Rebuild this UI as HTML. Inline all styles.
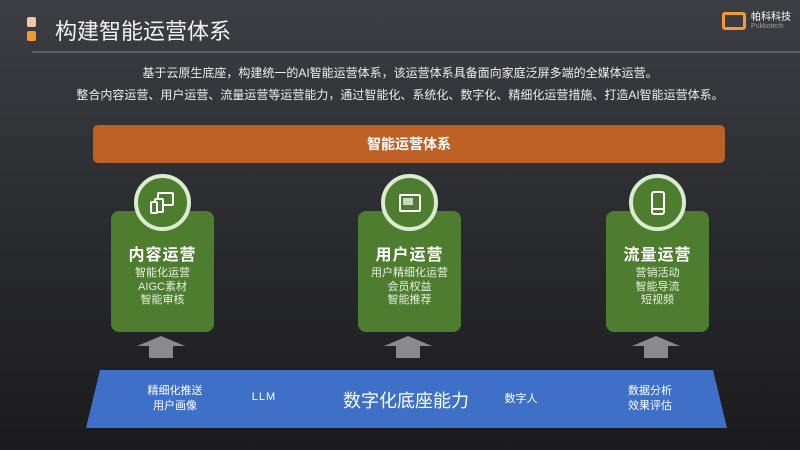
<!DOCTYPE html>
<html><head><meta charset="utf-8"><style>
*{margin:0;padding:0;box-sizing:border-box}
body{width:800px;height:450px;overflow:hidden;position:relative;background:linear-gradient(#3d3e44 0%,#2c2d31 45%,#1b1b1d 100%);font-family:"Liberation Sans","Noto Sans CJK SC",sans-serif;color:#fff}
.a{position:absolute}
.c{text-align:center}
.box{position:absolute;top:211px;width:103px;height:121px;background:#4e7d2f;border-radius:8px}
.box h3{position:absolute;top:30px;width:100%;text-align:center;font-size:16px;font-weight:bold;letter-spacing:1px}
.box p{position:absolute;top:56px;width:100%;text-align:center;font-size:11px;line-height:13.5px;color:#e8f0e0}
.cir{position:absolute;top:174px;width:57px;height:57px;border-radius:50%;background:#4e7d2f;border:4px solid #d9eccf}
.cir svg{position:absolute;left:12px;top:12px}
.arr{position:absolute;top:336px}
.bt{position:absolute;font-size:11px;line-height:15px;text-align:center;color:#fff}
</style></head><body>
<div class="a" style="left:27px;top:17px;width:9px;height:10px;background:#f3c7a6;border-radius:2px"></div>
<div class="a" style="left:27px;top:31px;width:9px;height:10px;background:#f39a32;border-radius:2px"></div>
<div class="a" style="left:55px;top:18px;font-size:22px;line-height:28px;color:#f2f2f2">构建智能运营体系</div>
<div class="a" style="left:32px;top:51px;width:768px;height:2px;background:#5d5e63"></div>
<div class="a" style="left:722px;top:12px;width:24px;height:18px;border:3px solid #f39a32;border-radius:3px"></div>
<div class="a" style="left:751px;top:12px;font-size:10px;line-height:11px;color:#fff">帕科科技</div>
<div class="a" style="left:751px;top:23px;font-size:7px;line-height:8px;color:#999">Pukkotech</div>
<div class="a c" style="left:0;width:800px;top:65px;font-size:12px;line-height:16px;color:#eee">基于云原生底座，构建统一的AI智能运营体系，该运营体系具备面向家庭泛屏多端的全媒体运营。</div>
<div class="a c" style="left:0;width:800px;top:87px;font-size:12px;line-height:16px;color:#eee">整合内容运营、用户运营、流量运营等运营能力，通过智能化、系统化、数字化、精细化运营措施、打造AI智能运营体系。</div>
<div class="a c" style="left:93px;top:125px;width:632px;height:38px;background:#bd6126;border-radius:5px;font-size:14px;font-weight:bold;line-height:38px">智能运营体系</div>

<div class="box" style="left:111px"><h3>内容运营</h3><p>智能化运营<br>AIGC素材<br>智能审核</p></div>
<div class="box" style="left:358px"><h3>用户运营</h3><p>用户精细化运营<br>会员权益<br>智能推荐</p></div>
<div class="box" style="left:606px"><h3>流量运营</h3><p>营销活动<br>智能导流<br>短视频</p></div>

<div class="cir" style="left:134px"><svg width="26" height="26" viewBox="0 0 26 26" fill="none" stroke="#fff" stroke-width="2"><rect x="8" y="3" width="15" height="12" rx="1"/><rect x="5" y="9" width="8" height="13" rx="1" fill="#4e7d2f"/><rect x="1" y="12" width="6" height="11" rx="1" fill="#4e7d2f"/></svg></div>
<div class="cir" style="left:381px"><svg width="26" height="26" viewBox="0 0 26 26" fill="none" stroke="#fff" stroke-width="2"><rect x="3" y="5" width="20" height="16" rx="1"/><rect x="6" y="8" width="10" height="7" fill="#fff" stroke="none" opacity=".7"/></svg></div>
<div class="cir" style="left:629px"><svg width="26" height="26" viewBox="0 0 26 26" fill="none" stroke="#fff" stroke-width="2"><rect x="7" y="2" width="12" height="22" rx="2"/><line x1="8" y1="19" x2="18" y2="19"/></svg></div>

<svg class="arr" style="left:137px" width="48" height="22"><polygon points="24,0 48,10 36,10 36,22 12,22 12,10 0,10" fill="#8a8a8c"/></svg>
<svg class="arr" style="left:384px" width="48" height="22"><polygon points="24,0 48,10 36,10 36,22 12,22 12,10 0,10" fill="#8a8a8c"/></svg>
<svg class="arr" style="left:632px" width="48" height="22"><polygon points="24,0 48,10 36,10 36,22 12,22 12,10 0,10" fill="#8a8a8c"/></svg>

<svg class="a" style="left:0;top:0" width="800" height="450"><polygon points="100,370 713,370 727,428 86,428" fill="#3e70c8"/></svg>
<div class="bt" style="left:125px;width:100px;top:384px">精细化推送<br>用户画像</div>
<div class="bt" style="left:234px;width:60px;top:390px;letter-spacing:1px">LLM</div>
<div class="bt" style="left:326px;width:160px;top:390px;font-size:18px;line-height:22px">数字化底座能力</div>
<div class="bt" style="left:491px;width:60px;top:392px">数字人</div>
<div class="bt" style="left:600px;width:100px;top:384px">数据分析<br>效果评估</div>
</body></html>
